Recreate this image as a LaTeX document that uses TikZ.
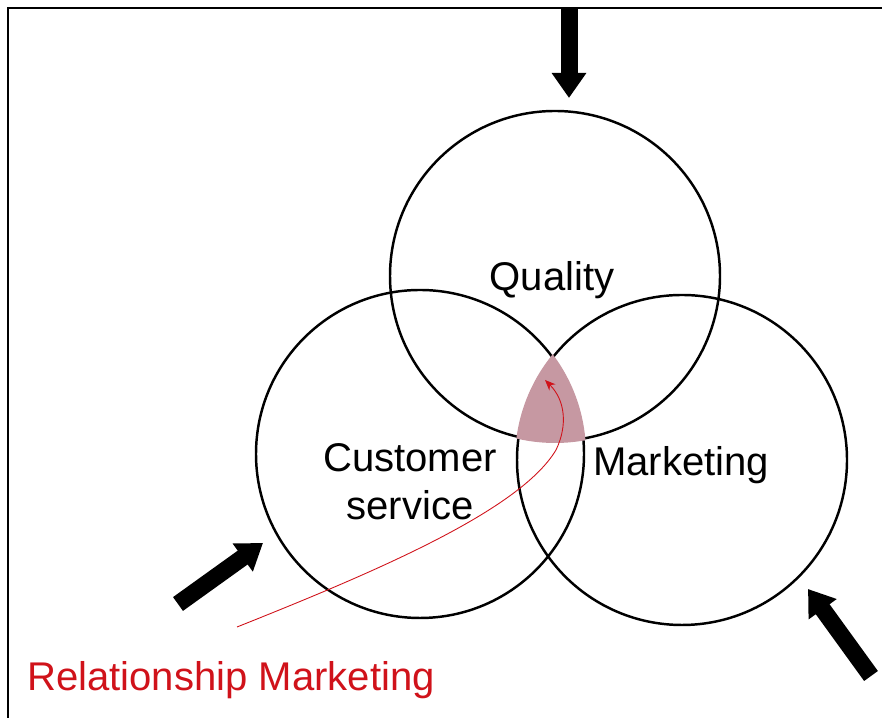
\documentclass[tikz,border=0pt]{standalone}
\usepackage{fontspec}
\setmainfont{Liberation Sans}
\usepackage{tikz}
\usetikzlibrary{arrows.meta}
\definecolor{relred}{RGB}{208,18,26}
\definecolor{overlap}{RGB}{198,152,162}
\tikzset{
    venn/.style={line width=1.4pt},
    bigarrow/.style={line width=0.34cm, -{Triangle[width=0.66cm,length=0.5cm]}},
    vlabel/.style={font=\fontsize{22.8}{27.3}\selectfont, align=center, inner sep=0pt}
}

\begin{document}
\begin{tikzpicture}
    \useasboundingbox (0,0) rectangle (17.64,14.36);
    % frame, only top and left
    \draw [line width=1.2pt] (0.16,0) -- (0.16,14.20) -- (17.64,14.20);
    \coordinate (cq) at (11.10,8.84);
    \coordinate (cc) at (8.40,5.28);
    \coordinate (cm) at (13.64,5.16);
    \foreach \c/\r in {cq/3.30,cc/3.28,cm/3.30}
        \draw [venn] (\c) circle (\r cm);
    % shaded common part, laid over the circle lines
    \begin{scope}
        \clip (cq) circle (3.34cm);
        \clip (cc) circle (3.32cm);
        \fill [overlap] (cm) circle (3.34cm);
    \end{scope}
    \node [vlabel] (quality) at (11.04,8.76) {Quality};
    \node [vlabel] (service) at (8.20,4.72) {Customer\\service};
    \node [vlabel] (marketing) at (13.62,5.06) {Marketing};
    \node [vlabel, text=relred] (relmark) at (4.62,0.76) {Relationship Marketing};
    % the three big arrows
    \coordinate (topfrom) at (11.38,14.18);
    \coordinate (topto) at (11.38,12.40);
    \coordinate (leftfrom) at (3.56,2.28);
    \coordinate (leftto) at (5.26,3.50);
    \coordinate (rightfrom) at (17.42,0.84);
    \coordinate (rightto) at (16.16,2.58);
    \foreach \a in {top,left,right}
        \draw [bigarrow] (\a from) -- (\a to);
    % red pointer into the overlap
    \coordinate (relstart) at (4.74,1.82);
    \coordinate (relbend) at (11.12,5.36);
    \coordinate (relend) at (10.90,6.76);
    \draw [relred, line width=0.5pt, -{Stealth[length=6pt,width=5pt]}]
        (relstart) .. controls (7.60,2.96) and (10.40,4.16) .. (relbend)
        .. controls (11.36,5.86) and (11.30,6.36) .. (relend);
\end{tikzpicture}
\end{document}
